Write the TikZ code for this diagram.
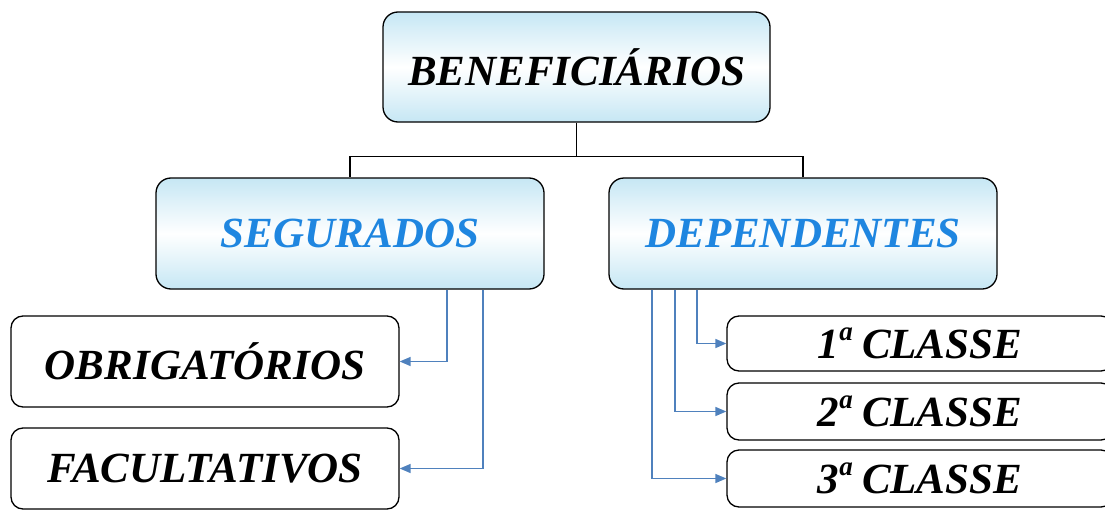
\documentclass[tikz,border=0pt]{standalone}
\usepackage{fontspec}
\setmainfont{Liberation Serif}
\usetikzlibrary{calc,arrows.meta}
\definecolor{boxblue}{HTML}{C6E7F4}
\definecolor{txtblue}{HTML}{1F86E0}
\definecolor{linkblue}{HTML}{4F81BD}
\newcommand{\ordsup}[1]{\raisebox{0.42em}{\fontsize{27}{27}\selectfont #1}}
\begin{document}
\begin{tikzpicture}[x=1pt,y=-1pt,
  basebox/.style={draw=black,line width=1.3pt,inner sep=0pt,font=\fontsize{43}{45}\selectfont\bfseries\itshape},
  topbox/.style={basebox,rounded corners=15pt,top color=boxblue,bottom color=boxblue,middle color=white},
  leafbox/.style={basebox,rounded corners=12pt,fill=white},
  tree/.style={draw=black,line width=1.3pt},
  link/.style={draw=linkblue,line width=1.5pt,-{Triangle[length=11pt,width=9pt]}}
]
\useasboundingbox (0,0) rectangle (1105,511);
\clip (0,0) rectangle (1105,511);
\node[topbox,minimum width=387pt,minimum height=110pt] (ben) at (576.5,67) {BENEFICIÁRIOS};
\node[topbox,minimum width=388pt,minimum height=111pt,text=txtblue] (seg) at (350,233.5) {SEGURADOS};
\node[topbox,minimum width=388pt,minimum height=111pt,text=txtblue] (dep) at (803,233.5) {DEPENDENTES};
\node[leafbox,minimum width=388pt,minimum height=91pt] (obr) at (205,361.5) {OBRIGATÓRIOS};
\node[leafbox,minimum width=388pt,minimum height=81pt] (fac) at (205,468.5) {FACULTATIVOS};
\node[leafbox,minimum width=386pt,minimum height=55pt,text width=386pt,align=center] (c1) at (920,343.5) {1\ordsup{a}\hspace{-0.12em} CLASSE};
\node[leafbox,minimum width=386pt,minimum height=57pt,text width=386pt,align=center] (c2) at (920,411.5) {2\ordsup{a}\hspace{-0.12em} CLASSE};
\node[leafbox,minimum width=386pt,minimum height=57pt,text width=386pt,align=center] (c3) at (920,478.5) {3\ordsup{a}\hspace{-0.12em} CLASSE};
\coordinate (hub) at ($(ben.south)+(0,34)$);
\draw[tree] (ben.south) -- (hub) -| (seg.north);
\draw[tree] (hub) -| (dep.north);
\draw[link] ($(seg.south)+(97,0)$) |- (obr.east);
\draw[link] ($(seg.south)+(133,0)$) |- (fac.east);
\draw[link] ($(dep.south)+(-106,0)$) |- (c1.west);
\draw[link] ($(dep.south)+(-128,0)$) |- (c2.west);
\draw[link] ($(dep.south)+(-151,0)$) |- (c3.west);
\end{tikzpicture}
\end{document}
